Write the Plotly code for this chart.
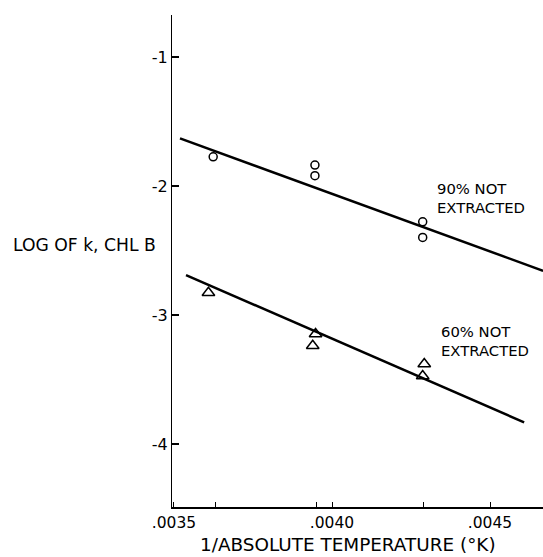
import plotly.graph_objects as go

# Data
x90 = [0.003624, 0.003946, 0.003946, 0.004287, 0.004287]
y90 = [-1.773, -1.837, -1.920, -2.277, -2.398]
x60 = [0.003609, 0.003948, 0.003939, 0.004292, 0.004287]
y60 = [-2.827, -3.147, -3.238, -3.380, -3.473]

fit90_x = [0.003519, 0.004668]
fit90_y = [-1.630, -2.657]
fit60_x = [0.003538, 0.004608]
fit60_y = [-2.690, -3.832]

x_tickvals = [0.0035, 0.00363, 0.00395, 0.0040, 0.00429, 0.0045]
x_ticktext = [".0035", "", "", ".0040", "", ".0045"]
y_tickvals = [-1, -2, -3, -4]
y_ticktext = ["-1", "-2", "-3", "-4"]

FONT = "DejaVu Sans, Liberation Sans, Arial, sans-serif"

fig = go.Figure()
fig.add_trace(go.Scatter(x=fit90_x, y=fit90_y, mode="lines",
                         line=dict(color="black", width=2.5), showlegend=False))
fig.add_trace(go.Scatter(x=fit60_x, y=fit60_y, mode="lines",
                         line=dict(color="black", width=2.5), showlegend=False))
fig.add_trace(go.Scatter(x=x90, y=y90, mode="markers",
                         marker=dict(symbol="circle-open", size=8, color="black",
                                     line=dict(width=1.5)), showlegend=False))
fig.add_trace(go.Scatter(x=x60, y=y60, mode="markers",
                         marker=dict(symbol="triangle-up-open", size=11, color="black",
                                     line=dict(width=1.5)), showlegend=False))

label_font = dict(size=14.8, family=FONT)

fig.update_layout(
    width=543, height=557,
    margin=dict(l=172, r=0, t=15, b=50),
    paper_bgcolor="white", plot_bgcolor="white",
    font=dict(family=FONT, color="black"),
    xaxis=dict(range=[0.0034937, 0.0046677], showgrid=False, zeroline=False,
               showline=True, linecolor="black", linewidth=2,
               ticks="inside", ticklen=5, tickwidth=1.2, tickcolor="black",
               tickvals=x_tickvals, ticktext=x_ticktext,
               tickfont=dict(size=15.5, family=FONT)),
    yaxis=dict(range=[-4.488, -0.674], showgrid=False, zeroline=False,
               showline=True, linecolor="black", linewidth=1.2,
               ticks="inside", ticklen=7, tickwidth=1.5, tickcolor="black",
               tickvals=y_tickvals, ticktext=y_ticktext,
               tickfont=dict(size=16, family=FONT)),
    annotations=[
        dict(text="LOG OF k, CHL B", xref="paper", yref="y", x=0, y=-2.457,
             xanchor="right", yanchor="middle", xshift=-14, showarrow=False,
             font=dict(size=17.2, family=FONT)),
        dict(text="1/ABSOLUTE TEMPERATURE (°K)", xref="x", yref="paper",
             x=0.004052, y=0, yanchor="top", yshift=-26, showarrow=False,
             borderpad=0, font=dict(size=18.4, family=FONT)),
        dict(text="90% NOT<br>EXTRACTED", xref="x", yref="y", x=0.0043255, y=-2.093,
             xanchor="left", yanchor="middle", align="left", showarrow=False,
             font=label_font),
        dict(text="60% NOT<br>EXTRACTED", xref="x", yref="y", x=0.004340, y=-3.199,
             xanchor="left", yanchor="middle", align="left", showarrow=False,
             font=label_font),
    ],
)

fig.write_html("out.html")
